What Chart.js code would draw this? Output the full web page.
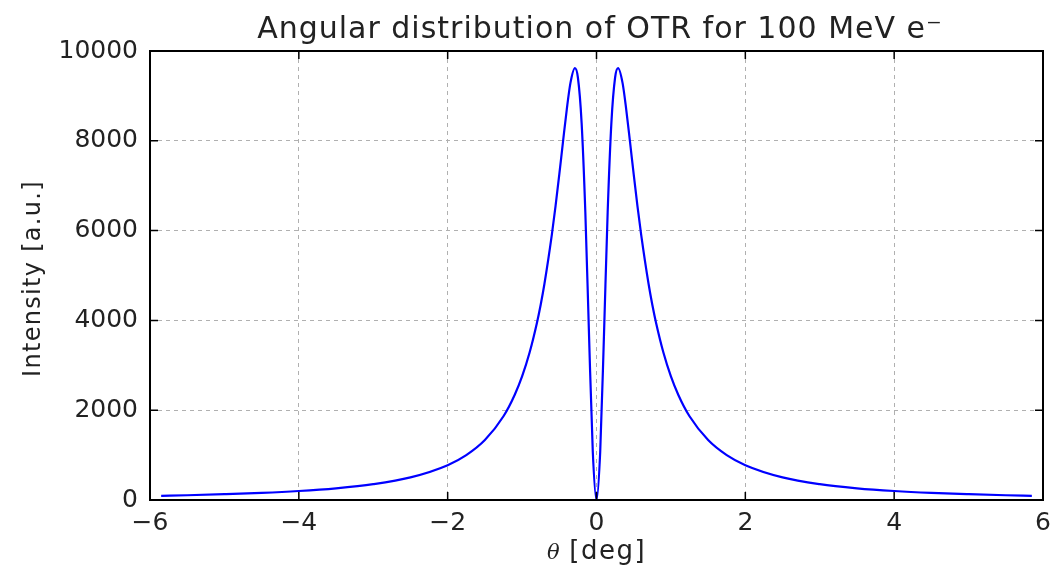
<!DOCTYPE html>
<html lang="en">
<head>
  <meta charset="UTF-8">
  <title>OTR angular distribution</title>
  <script src="https://cdn.jsdelivr.net/npm/chart.js"></script>
</head>
<body style="margin:0; background:#fff;">
  <div style="width:1052px; height:578px;">
    <canvas id="otrChart" width="1052" height="578"></canvas>
  </div>
  <script>
    // angle in degrees and intensity in arbitrary units
    const theta = [-5.85, -5.5, -5, -4.5, -4, -3.5, -3, -2.5, -2, -1.75, -1.5, -1.25, -1.1, -1, -0.9, -0.8, -0.75, -0.7, -0.6, -0.55, -0.5, -0.45, -0.4, -0.35, -0.29, -0.25, -0.2, -0.15, -0.1, -0.05, 0,
                   0.05, 0.1, 0.15, 0.2, 0.25, 0.29, 0.35, 0.4, 0.45, 0.5, 0.55, 0.6, 0.7, 0.75, 0.8, 0.9, 1, 1.1, 1.25, 1.5, 1.75, 2, 2.5, 3, 3.5, 4, 4.5, 5, 5.5, 5.85];
    const intensity = [94, 106, 129, 158, 200, 261, 353, 504, 776, 1000, 1336, 1865, 2340, 2753, 3280, 3950, 4350, 4810, 5910, 6550, 7250, 7980, 8690, 9290, 9620, 9410, 8400, 6410, 3650, 1080, 0,
                       1080, 3650, 6410, 8400, 9410, 9620, 9290, 8690, 7980, 7250, 6550, 5910, 4810, 4350, 3950, 3280, 2753, 2340, 1865, 1336, 1000, 776, 504, 353, 261, 200, 158, 129, 106, 94];
    const xTicks = [-6, -4, -2, 0, 2, 4, 6];
    const yTicks = [0, 2000, 4000, 6000, 8000, 10000];
    const titleText = 'Angular distribution of OTR for 100 MeV e\u207b';
    const yLabel = 'Intensity [a.u.]';

    const points = theta.map((t, i) => ({ x: t, y: intensity[i] }));

    // black frame with inward tick marks on all four sides, title and axis labels
    const framePlugin = {
      id: 'frame',
      afterDraw(chart) {
        const { ctx, chartArea: a, scales } = chart;
        ctx.save();
        ctx.strokeStyle = '#000';
        ctx.lineWidth = 1.5;
        ctx.beginPath();
        xTicks.forEach(v => {
          const px = scales.x.getPixelForValue(v);
          ctx.moveTo(px, a.bottom); ctx.lineTo(px, a.bottom - 8);
          ctx.moveTo(px, a.top); ctx.lineTo(px, a.top + 8);
        });
        yTicks.forEach(v => {
          const py = scales.y.getPixelForValue(v);
          ctx.moveTo(a.left, py); ctx.lineTo(a.left + 8, py);
          ctx.moveTo(a.right, py); ctx.lineTo(a.right - 8, py);
        });
        ctx.stroke();
        ctx.lineWidth = 2;
        ctx.strokeRect(a.left, a.top, a.right - a.left, a.bottom - a.top);

        ctx.fillStyle = '#222';
        ctx.textBaseline = 'alphabetic';

        // title
        ctx.textAlign = 'center';
        ctx.letterSpacing = '1px';
        ctx.font = '30px "DejaVu Sans"';
        ctx.fillText(titleText, 600, 38);

        // y axis label
        ctx.save();
        ctx.letterSpacing = '1.3px';
        ctx.font = '24px "DejaVu Sans"';
        ctx.translate(40, (a.top + a.bottom) / 2 + 3);
        ctx.rotate(-Math.PI / 2);
        ctx.fillText(yLabel, 0, 0);
        ctx.restore();

        // x axis label, italic theta then unit
        ctx.textAlign = 'left';
        const sym = '\u03b8';
        const rest = ' [deg]';
        ctx.letterSpacing = '0px';
        ctx.font = 'italic 21px "DejaVu Serif"';
        const w1 = ctx.measureText(sym).width;
        ctx.letterSpacing = '1.5px';
        ctx.font = '26px "DejaVu Sans"';
        const w2 = ctx.measureText(rest).width;
        const x0 = scales.x.getPixelForValue(0) - (w1 + w2) / 2;
        ctx.letterSpacing = '0px';
        ctx.font = 'italic 21px "DejaVu Serif"';
        ctx.fillText(sym, x0, 559);
        ctx.letterSpacing = '1.5px';
        ctx.font = '26px "DejaVu Sans"';
        ctx.fillText(rest, x0 + w1, 559);
        ctx.restore();
      }
    };

    new Chart(document.getElementById('otrChart'), {
      type: 'scatter',
      data: {
        datasets: [{
          data: points,
          showLine: true,
          borderColor: '#0000ff',
          borderWidth: 2.2,
          pointRadius: 0,
          cubicInterpolationMode: 'monotone'
        }]
      },
      options: {
        responsive: false,
        animation: false,
        layout: { padding: { top: 51, right: 9 } },
        plugins: {
          legend: { display: false },
          tooltip: { enabled: false },
          title: { display: false }
        },
        scales: {
          x: {
            type: 'linear',
            min: -6,
            max: 6,
            afterFit(scale) {
              scale.height = 78;
              scale.paddingRight = 0;
              scale.paddingLeft = 0;
            },
            afterBuildTicks(scale) { scale.ticks = xTicks.map(v => ({ value: v })); },
            ticks: {
              color: '#222',
              padding: 8,
              font: { family: 'DejaVu Sans', size: 25 },
              callback: v => (v < 0 ? '\u2212' + Math.abs(v) : String(v))
            },
            grid: { color: '#b0b0b0', lineWidth: 1, drawTicks: false },
            border: { display: false, dash: [4, 4] }
          },
          y: {
            min: 0,
            max: 10000,
            afterFit(scale) { scale.width = 150; },
            afterBuildTicks(scale) { scale.ticks = yTicks.map(v => ({ value: v })); },
            ticks: {
              color: '#222',
              padding: 12,
              font: { family: 'DejaVu Sans', size: 25 },
              callback: v => String(v)
            },
            grid: { color: '#b0b0b0', lineWidth: 1, drawTicks: false },
            border: { display: false, dash: [4, 4] }
          }
        }
      },
      plugins: [framePlugin]
    });
  </script>
</body>
</html>
